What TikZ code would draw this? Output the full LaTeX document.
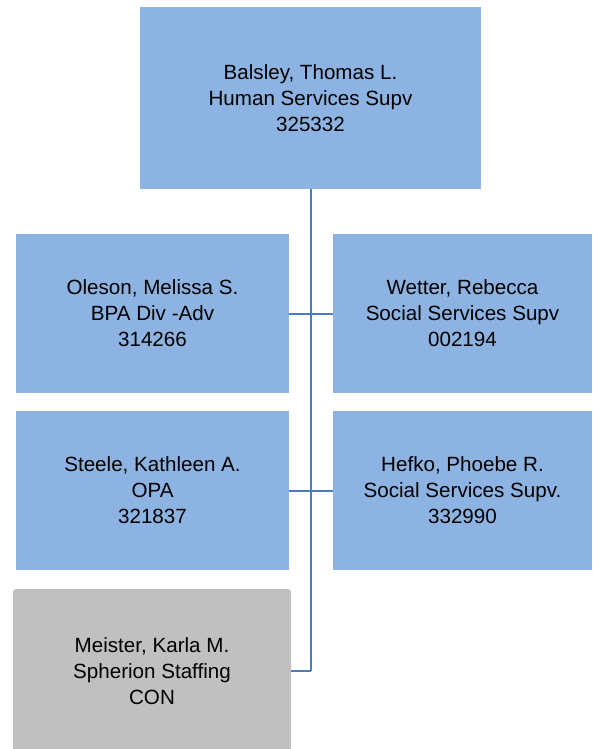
\documentclass[tikz,border=0pt]{standalone}
\usepackage{fontspec}
\setmainfont{Liberation Sans}
\usetikzlibrary{calc}

\definecolor{boxblue}{HTML}{8DB3E2}
\definecolor{boxgray}{HTML}{C0C0C0}
\definecolor{linkblue}{HTML}{4A7EBB}

\tikzset{
  staff/.style={fill=boxblue, align=center, inner sep=0pt,
    font=\fontsize{20.6}{26}\selectfont},
  contractor/.style={staff, fill=boxgray, rounded corners=3pt},
  link/.style={draw=linkblue, line width=2pt}
}

\begin{document}
\begin{tikzpicture}[x=1pt,y=-1pt]
\useasboundingbox (0,0) rectangle (592,749);

\node[staff, minimum width=341pt, minimum height=182pt] (balsley) at (310.5,98)
  {Balsley, Thomas L.\\Human Services Supv\\325332};

\node[staff, minimum width=273pt, minimum height=159pt] (oleson) at (152.5,313.5)
  {Oleson, Melissa S.\\BPA Div -Adv\\314266};
\node[staff, minimum width=259pt, minimum height=159pt] (wetter) at (462.5,313.5)
  {Wetter, Rebecca\\Social Services Supv\\002194};

\node[staff, minimum width=273pt, minimum height=159pt] (steele) at (152.5,490.5)
  {Steele, Kathleen A.\\OPA\\321837};
\node[staff, minimum width=259pt, minimum height=159pt] (hefko) at (462.5,490.5)
  {Hefko, Phoebe R.\\Social Services Supv.\\332990};

\node[contractor, minimum width=278pt, minimum height=164pt] (meister) at (152,671)
  {Meister, Karla M.\\Spherion Staffing\\CON};

\coordinate (trunkEnd) at (balsley.south |- meister.east);

\draw[link] (balsley.south) -- (trunkEnd);
\draw[link] (oleson.east) -- (wetter.west);
\draw[link] (steele.east) -- (hefko.west);
\draw[link] (meister.east) -- (trunkEnd);
\end{tikzpicture}
\end{document}
